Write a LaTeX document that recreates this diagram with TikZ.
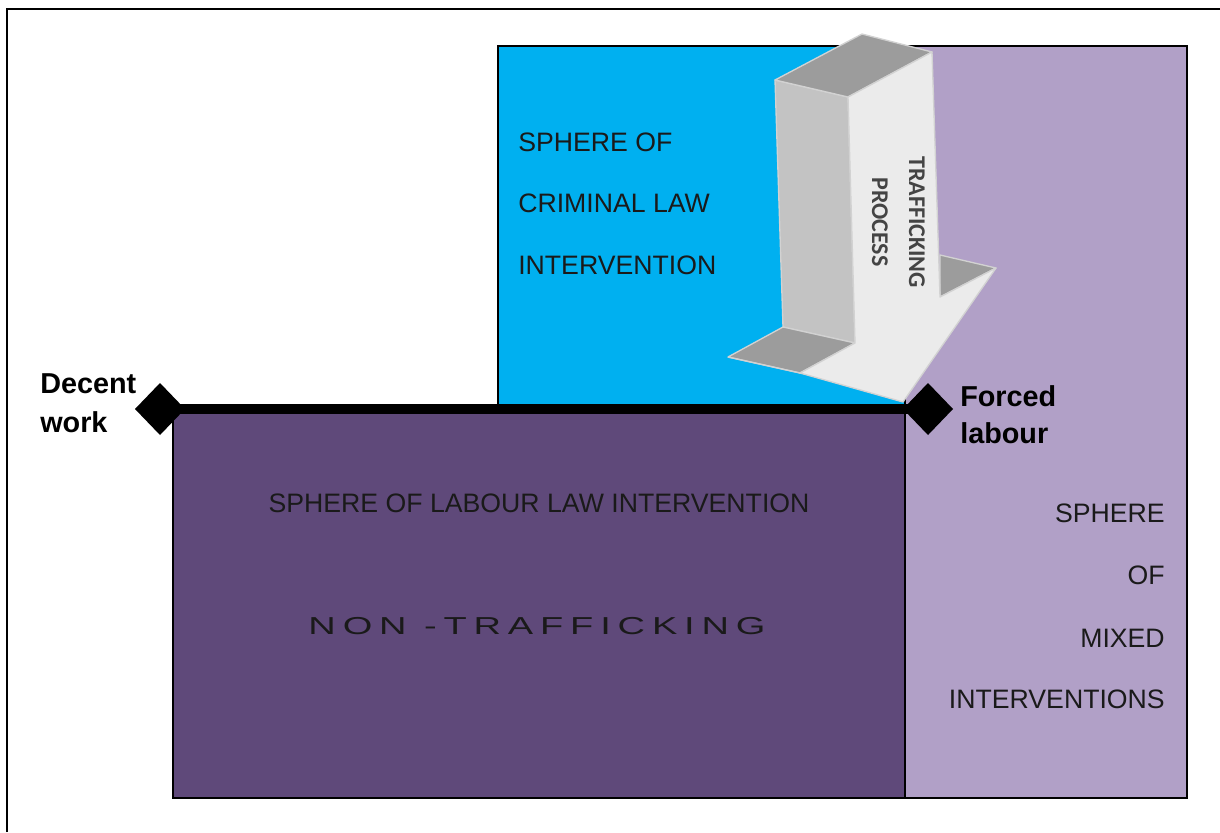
\documentclass[tikz,border=0pt]{standalone}
\usepackage{fontspec}
\usepackage{graphicx}
\setmainfont{Liberation Sans}
\newfontfamily\arrowfont{Carlito}
\definecolor{crimblue}{HTML}{00B0F0}
\definecolor{mixpurple}{HTML}{B1A0C7}
\definecolor{labpurple}{HTML}{5F497A}
\definecolor{topgrey}{HTML}{9C9C9C}
\definecolor{sidegrey}{HTML}{C3C3C3}
\definecolor{frontgrey}{HTML}{EBEBEB}
\definecolor{edgegrey}{HTML}{D2D2D2}
\definecolor{txtdark}{HTML}{1A1A1A}
\definecolor{arrowtxt}{HTML}{444444}
\begin{document}
\begin{tikzpicture}[x=0.75pt,y=-0.75pt,
  plain/.style={font=\fontsize{20}{24}\selectfont, text=txtdark, inner sep=0pt},
  boldlab/.style={font=\fontsize{21.6}{26}\selectfont\bfseries, text=black, inner sep=0pt, anchor=base west},
  arrowlab/.style={font=\arrowfont\fontsize{18}{20}\selectfont\bfseries, text=arrowtxt, inner sep=0pt, rotate=-90},
  face/.style={draw=edgegrey, line width=1pt, line join=round},
  marker/.style={fill=black, draw=none}]
\useasboundingbox (0,0) rectangle (1220,832);
% outer frame
\draw[line width=2.2pt] (7,832) -- (7,9) -- (1220,9);
% spheres
\draw[fill=crimblue, draw=black, line width=0.9pt] (498,46) rectangle (905,409);
\draw[fill=mixpurple, draw=black, line width=0.9pt] (905,46) rectangle (1187,798);
\draw[fill=labpurple, draw=black, line width=0.9pt] (173,409) rectangle (905,798);
% 3D arrow
\filldraw[face, fill=sidegrey] (775,80) -- (848,97) -- (855,343) -- (783,327) -- cycle;
\filldraw[face, fill=topgrey] (775,80) -- (862,34) -- (932,52) -- (848,97) -- cycle;
\filldraw[face, fill=topgrey] (728,357) -- (783,327) -- (855,343) -- (800,373) -- cycle;
\filldraw[face, fill=topgrey] (940,255) -- (996,268) -- (940,297) -- cycle;
\filldraw[face, fill=frontgrey] (848,97) -- (932,52) -- (940,297) -- (996,268) -- (903,402) -- (800,373) -- (855,343) -- cycle;
\draw[edgegrey, line width=1pt] (728,357) -- (800,373);
\node[arrowlab] (tr) at (917,222) {TRAFFICKING};
\node[arrowlab] (pr) at (880,222) {PROCESS};
% axis line and diamonds
\coordinate (dl) at (160,409);
\coordinate (fl) at (928,409);
\draw[line width=7.5pt] (dl) -- (fl);
\fill[marker] (dl) ++(-25,0) -- ++(25,-26) -- ++(25,26) -- ++(-25,26) -- cycle;
\fill[marker] (fl) ++(-25,0) -- ++(25,-26) -- ++(25,26) -- ++(-25,26) -- cycle;
% labels
\node[boldlab] (d1) at (40,393) {Decent};
\node[boldlab] (d2) at (40,432) {work};
\node[boldlab] (f1) at (960,406) {Forced};
\node[boldlab] (f2) at (960,443) {labour};
\node[plain, anchor=base west] (c1) at (518,151) {SPHERE OF};
\node[plain, anchor=base west] (c2) at (518,212) {CRIMINAL LAW};
\node[plain, anchor=base west] (c3) at (518,274) {INTERVENTION};
\node[plain, anchor=base] (l1) at (539,512) {SPHERE OF LABOUR LAW INTERVENTION};
\node[plain, anchor=base, font=\fontsize{18.4}{22}\selectfont\addfontfeature{LetterSpace=18}] (nt) at (537,634) {\scalebox{1.55}[1]{NON -TRAFFICKING}};
\node[plain, anchor=base east] (m1) at (1165,522) {SPHERE};
\node[plain, anchor=base east] (m2) at (1165,584) {OF};
\node[plain, anchor=base east] (m3) at (1165,647) {MIXED};
\node[plain, anchor=base east] (m4) at (1165,708) {INTERVENTIONS};
\end{tikzpicture}
\end{document}
